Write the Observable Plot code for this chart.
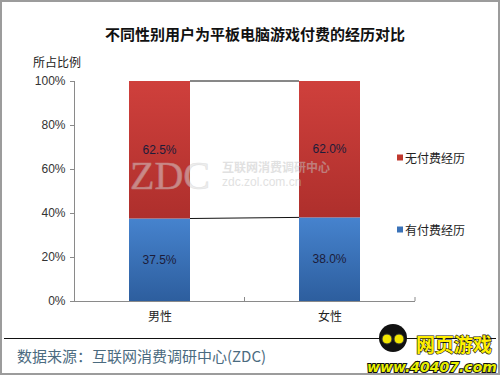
<!DOCTYPE html>
<html><head><meta charset="utf-8">
<script src="https://cdn.jsdelivr.net/npm/d3@7"></script>
<script src="https://cdn.jsdelivr.net/npm/@observablehq/plot@0.6"></script>
<style>
html,body{margin:0;padding:0;background:#fff;}
#wrap{position:relative;width:500px;height:375px;overflow:hidden;}
#border{position:absolute;left:0;top:0;width:496px;height:371px;border:2px solid #9c9c9c;pointer-events:none;}
</style></head>
<body><div id="wrap"><div id="border"></div></div>
<script>
const title = "不同性别用户为平板电脑游戏付费的经历对比";
const yLabel = "所占比例";
const source = "数据来源：互联网消费调研中心(ZDC)";
const categories = ["男性", "女性"];
const seriesNames = ["有付费经历", "无付费经历"];
const paid = [37.5, 38.0];
const unpaid = [62.5, 62.0];
const yTicks = [0, 20, 40, 60, 80, 100];

const data = [];
categories.forEach((c, i) => {
  data.push({gender: c, type: seriesNames[0], value: paid[i]});
  data.push({gender: c, type: seriesNames[1], value: unpaid[i]});
});

const font = "'Liberation Sans','Noto Sans CJK SC',sans-serif";
const cjk = "'Noto Sans CJK SC','Liberation Sans',sans-serif";

const chart = Plot.plot({
  width: 500, height: 375,
  marginTop: 81, marginBottom: 74, marginLeft: 74, marginRight: 85,
  style: {fontFamily: font, fontSize: "12px", color: "#222", background: "transparent"},
  x: {domain: categories, paddingInner: 0.64, paddingOuter: 0.32, label: null},
  y: {domain: [0, 100], label: null},
  color: {domain: seriesNames, range: ["url(#gBlue)", "url(#gRed)"]},
  marks: [
    Plot.barY(data, Plot.stackY({x: "gender", y: "value", fill: "type"})),
    Plot.ruleY([0], {stroke: "#8a8a8a"}),
    Plot.axisY({ticks: yTicks, tickFormat: d => d + "%", tickSize: 4, tickPadding: 5, stroke: "#8a8a8a", fill: "#333", fontSize: 12}),
    Plot.axisX({tickSize: 0, tickPadding: 11, fontFamily: cjk, fontSize: 12, fill: "#222"})
  ]
});
document.getElementById("wrap").prepend(chart);

const svg = d3.select(chart);
const defs = svg.insert("defs", ":first-child");
function grad(id, c1, c2) {
  const g = defs.append("linearGradient").attr("id", id).attr("x1", 0).attr("y1", 0).attr("x2", 0).attr("y2", 1);
  g.append("stop").attr("offset", "0%").attr("stop-color", c1);
  g.append("stop").attr("offset", "100%").attr("stop-color", c2);
}
grad("gRed", "#cf403c", "#ae2f2c");
grad("gBlue", "#4683ce", "#2d5e9e");

const xs = chart.scale("x"), ys = chart.scale("y");
const bw = xs.bandwidth;
const x0 = xs.apply(categories[0]) + bw, x1 = xs.apply(categories[1]);

// y axis line and x ticks
svg.append("line").attr("x1", 74.5).attr("x2", 74.5).attr("y1", ys.apply(0)).attr("y2", ys.apply(100)).attr("stroke", "#8a8a8a");
const midX = (xs.apply(categories[0]) + bw + xs.apply(categories[1])) / 2;
[midX, 415].forEach(x => svg.append("line").attr("x1", x).attr("x2", x).attr("y1", ys.apply(0)).attr("y2", ys.apply(0) - 4).attr("stroke", "#8a8a8a"));

// series connector lines
svg.append("line").attr("x1", x0).attr("x2", x1).attr("y1", ys.apply(paid[0])).attr("y2", ys.apply(paid[1])).attr("stroke", "#111");
svg.append("line").attr("x1", x0).attr("x2", x1).attr("y1", ys.apply(paid[0] + unpaid[0])).attr("y2", ys.apply(paid[1] + unpaid[1])).attr("stroke", "#111");

// watermark
const wm = svg.append("g").attr("opacity", 0.5).attr("text-anchor", "start");
wm.append("text").attr("x", 130).attr("y", 189).attr("font-family", "'Liberation Serif',serif").attr("font-size", 40).attr("fill", "#dcdcdc").attr("stroke", "#c4c4c4").attr("stroke-width", 0.6).text("ZDC");
wm.append("text").attr("x", 222).attr("y", 172).attr("font-family", cjk).attr("font-size", 12).attr("font-weight", "bold").attr("fill", "#c4c4c4").text("互联网消费调研中心");
wm.append("text").attr("x", 222).attr("y", 186).attr("font-family", font).attr("font-size", 12).attr("fill", "#c4c4c4").text("zdc.zol.com.cn");

// value labels (library scales)
const lab = svg.append("g").attr("text-anchor", "middle").attr("font-family", font).attr("font-size", 12).attr("fill", "#1c1c3a");
categories.forEach((c, i) => {
  const cx = xs.apply(c) + bw / 2;
  lab.append("text").attr("x", cx).attr("y", ys.apply(paid[i] / 2)).attr("dy", "0.35em").text(paid[i].toFixed(1) + "%");
  lab.append("text").attr("x", cx).attr("y", ys.apply(paid[i] + unpaid[i] / 2)).attr("dy", "0.35em").text(unpaid[i].toFixed(1) + "%");
});

// title & y label
svg.append("text").attr("x", 255).attr("y", 40).attr("text-anchor", "middle").attr("font-family", cjk).attr("font-size", 15).attr("font-weight", "bold").attr("fill", "#111").text(title);
svg.append("text").attr("x", 33).attr("y", 67).attr("text-anchor", "start").attr("font-family", cjk).attr("font-size", 12).attr("fill", "#222").text(yLabel);

// legend
const legendY = [230, 158];
seriesNames.forEach((s, i) => {
  const g = svg.append("g").attr("text-anchor", "start");
  g.append("rect").attr("x", 397).attr("y", legendY[i] - 3.5).attr("width", 6).attr("height", 6).attr("fill", i === 0 ? "#3a72b8" : "#c0392f");
  g.append("text").attr("x", 405).attr("y", legendY[i] + 4.5).attr("font-family", cjk).attr("font-size", 12).attr("fill", "#222").text(s);
});

// footer
svg.append("line").attr("x1", 4).attr("x2", 496).attr("y1", 338.5).attr("y2", 338.5).attr("stroke", "#111");
svg.append("text").attr("x", 17).attr("y", 362).attr("text-anchor", "start").attr("font-family", cjk).attr("font-size", 15).attr("fill", "#4b6b80").text(source);

// logo
const lg = svg.append("g");
lg.append("circle").attr("cx", 393).attr("cy", 338).attr("r", 14).attr("fill", "#111");
lg.append("circle").attr("cx", 387).attr("cy", 339).attr("r", 5).attr("fill", "#f2e600").attr("stroke", "#333");
lg.append("circle").attr("cx", 399).attr("cy", 339).attr("r", 5).attr("fill", "#f2e600").attr("stroke", "#333");
lg.append("text").attr("x", 454).attr("y", 352).attr("text-anchor", "middle").attr("font-family", cjk).attr("font-size", 19).attr("font-weight", "bold").attr("fill", "#ffef00").attr("stroke", "#111").attr("stroke-width", 1.2).attr("paint-order", "stroke").text("网页游戏");
lg.append("text").attr("x", 432).attr("y", 372).attr("text-anchor", "middle").attr("font-family", "'DejaVu Sans',sans-serif").attr("font-size", 14).attr("font-weight", "bold").attr("font-style", "italic").attr("fill", "#e8f000").attr("stroke", "#111").attr("stroke-width", 2).attr("paint-order", "stroke").text("www.40407.com");
</script>
</body></html>
